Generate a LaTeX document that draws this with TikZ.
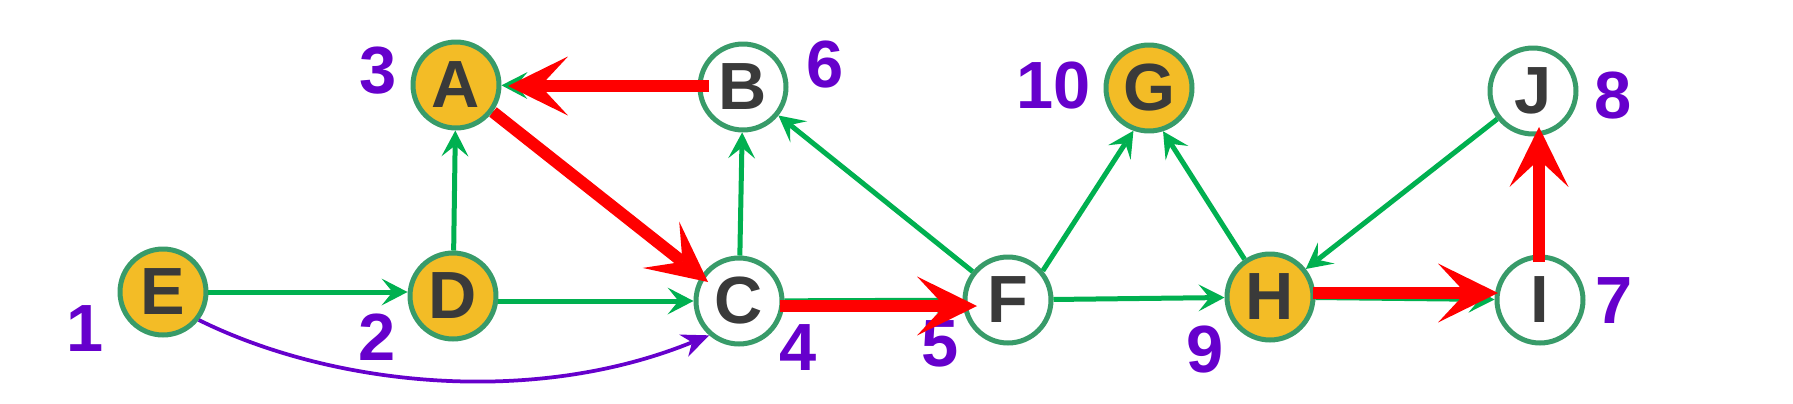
\documentclass[tikz,border=0pt]{standalone}
\usepackage{fontspec}
\setmainfont{Liberation Sans}
\usetikzlibrary{arrows.meta}
\definecolor{nodeline}{HTML}{389B69}
\definecolor{nodefill}{HTML}{F3BC26}
\definecolor{edgegreen}{HTML}{00B050}
\definecolor{treered}{HTML}{FF0000}
\definecolor{numpurple}{HTML}{6600CC}
\definecolor{lettergray}{HTML}{3A3A3A}
\begin{document}
\begin{tikzpicture}[x=0.02cm,y=-0.02cm,
  vtx/.style={circle, draw=nodeline, line width=0.1cm, minimum size=1.72cm, inner sep=0pt,
    font=\fontsize{38}{40}\selectfont\bfseries, text=lettergray, fill=white},
  done/.style={vtx, fill=nodefill},
  num/.style={font=\fontsize{38}{40}\selectfont\bfseries, text=numpurple, inner sep=0pt},
  gedge/.style={draw=edgegreen, line width=0.1cm,
    -{Stealth[length=0.52cm,width=0.54cm,inset=0.22cm,line width=0pt]}},
  redge/.style={draw=treered, line width=0.24cm,
    -{Stealth[length=1.2cm,width=1.18cm,inset=0.55cm,line width=0pt]}},
  pedge/.style={draw=numpurple, line width=0.075cm,
    -{Stealth[length=0.55cm,width=0.48cm,inset=0.18cm,line width=0pt]}}
]
\fill[white] (0,0) rectangle (1793,403);
\useasboundingbox (0,0) rectangle (1793,403);

% vertices
\node[done] (E) at (163,292) {E};
\node[done] (D) at (453,296) {D};
\node[done] (A) at (456,85) {A};
\node[vtx]  (B) at (743,87) {B};
\node[vtx]  (C) at (739,301) {C};
\node[vtx]  (F) at (1008,300) {F};
\node[done] (G) at (1149,88) {G};
\node[done] (H) at (1270,297) {H};
\node[vtx]  (I) at (1540,300) {I};
\node[vtx]  (J) at (1533,91) {J};

% order numbers
\node[num] (n1) at (85,329) {1};
\node[num] (n2) at (377,337) {2};
\node[num] (n3) at (378,71) {3};
\node[num] (n4) at (798,348) {4};
\node[num] (n5) at (940,344) {5};
\node[num] (n6) at (825,65) {6};
\node[num] (n7) at (1614,301) {7};
\node[num] (n8) at (1613,96) {8};
\node[num] (n9) at (1205,350) {9};
\node[num] (n10) at (1054,86) {10};

% graph edges
\draw[gedge] (E.east) -- (D.west |- E.east);
\draw[gedge] (D) -- (A);
\draw[gedge] (D.east |- C.west) -- (C.west);
\draw[gedge] (A) -- (C);
\draw[gedge] (B) -- (A);
\draw[gedge] (C) -- (B);
\draw[gedge] (C) -- (F);
\draw[gedge] (F) -- (B);
\draw[gedge] (F.40) -- (G.-110);
\draw[gedge] (F) -- (H);
\draw[gedge] (H.124) -- (G.-72);
\draw[gedge] (J) -- (H);
\draw[gedge] (H) -- (I);

% cross edge
\draw[pedge] (E.-38) .. controls (330,385) and (530,408) .. (C.-131);

% tree edges
\draw[redge] ([shift={(-34,-1)}]B.center) -- ([shift={(52,1)}]A.center);
\draw[redge] ([shift={(37,27)}]A.center) -- ([shift={(-31,-19)}]C.center);
\draw[redge] ([shift={(41,5)}]C.center) -- ([shift={(-31,6)}]F.center);
\draw[redge] ([shift={(43,-4)}]H.center) -- ([shift={(-42,-7)}]I.center);
\draw[redge] ([shift={(-1,-38)}]I.center) -- ([shift={(6,36)}]J.center);
\end{tikzpicture}
\end{document}
